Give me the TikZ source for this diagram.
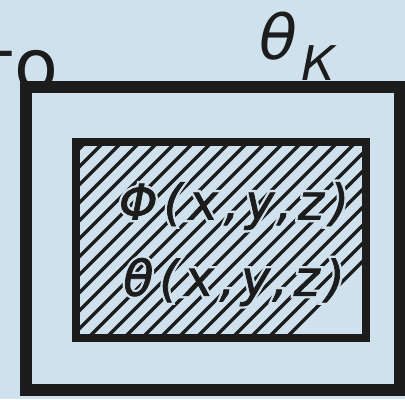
\documentclass[tikz,border=0pt]{standalone}
\usepackage{fontspec}
\usepackage{tikz}
\usetikzlibrary{positioning}
\newfontfamily\drawfont{DejaVu Sans}
\definecolor{scanBlue}{HTML}{CFE1EC}
\definecolor{scanInk}{HTML}{1C1C1C}
% letters keep a clear rim against the hatching
\newcommand\haloed[1]{\rlap{\color{scanBlue}\addfontfeatures{FakeBold=11}#1}{\addfontfeatures{FakeBold=1.5}#1}}

\begin{document}
\begin{tikzpicture}[
  x=0.025cm, y=-0.025cm,
  wall/.style={draw=scanInk, fill=scanBlue, line width=0.3cm},
  body/.style={draw=scanInk, line width=0.22cm},
  hatch/.style={draw=scanInk, line width=0.08cm},
  formula/.style={text=scanInk, font=\drawfont\itshape\fontsize{35}{38}\selectfont\addfontfeatures{LetterSpace=12}, inner sep=0pt},
  margin/.style={text=scanInk, font=\drawfont\fontsize{51}{55}\selectfont, inner sep=0pt, anchor=base west}
]
\useasboundingbox (0,0) rectangle (405,399);
\fill[scanBlue] (0,0) rectangle (405,399);
\clip (0,0) rectangle (405,399);

% word cut off from the page
\node[margin] (pageword) at (-28,91) {то};

% contact surface and body
\coordinate (outerNW) at (26,87);
\coordinate (outerSE) at (400,390);
\coordinate (innerNW) at (76,142);
\coordinate (innerSE) at (366,338);

\draw[wall] (outerNW) rectangle (outerSE);

\begin{scope}
  \clip (innerNW) rectangle (innerSE);
  \foreach \i in {0,18,...,500}
    \draw[hatch] (\i-200,338) -- ++(200,-200);
\end{scope}

\draw[body] (innerNW) rectangle (innerSE);

\node[formula] (phi) at (234,206) {\haloed{Φ(x,y,z)}};
\node[formula] (theta) at (234,282) {\haloed{θ(x,y,z)}};
\node[formula, anchor=base west, font=\drawfont\itshape\fontsize{44}{48}\selectfont] (thetaK) at (259,60)
  {θ\kern3pt\raisebox{-0.62ex}{\fontsize{34}{36}\selectfont К}};
\end{tikzpicture}
\end{document}
